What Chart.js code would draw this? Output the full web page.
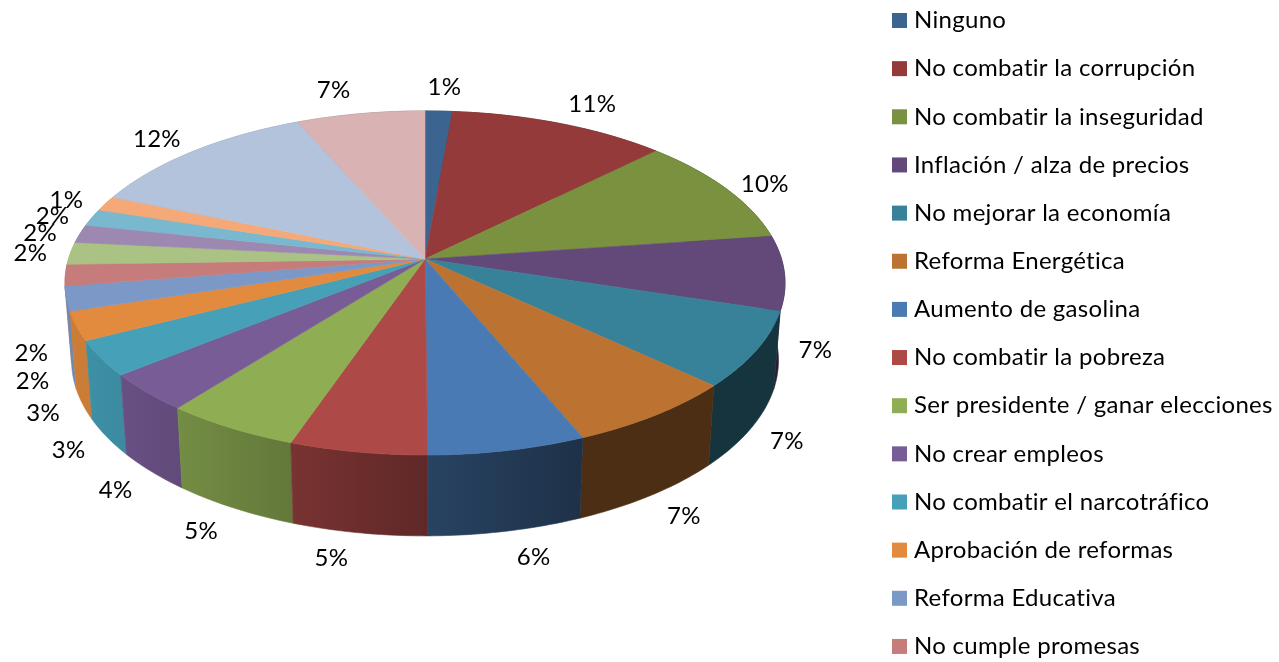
<!DOCTYPE html>
<html>
<head>
<meta charset="utf-8">
<style>
    html, body { margin: 0; background: #fff; overflow: hidden; }
    canvas { display: block; }
</style>
<script src="https://cdn.jsdelivr.net/npm/chart.js@4"></script>
</head>
<body>
<canvas id="pieChart" width="1279" height="662"></canvas>
<script>
// only the first 14 names are readable, the legend is cut off by the picture
const categories = [
    'Ninguno', 'No combatir la corrupción', 'No combatir la inseguridad', 'Inflación / alza de precios',
    'No mejorar la economía', 'Reforma Energética', 'Aumento de gasolina', 'No combatir la pobreza',
    'Ser presidente / ganar elecciones', 'No crear empleos', 'No combatir el narcotráfico',
    'Aprobación de reformas', 'Reforma Educativa', 'No cumple promesas'
];
const shares = [1.4, 11.2, 10.2, 7.0, 7.1, 6.8, 6.2, 5.4, 5.3, 3.6, 3.3, 2.7, 2.3, 2.0, 2.1, 1.7, 1.6, 1.4, 12.1, 6.6];
const colors = [
    '#3b6491', '#943a3a', '#7a923f', '#63497a', '#388299', '#bc7231', '#4a7ab3', '#ad4a48', '#8fae54', '#775c96',
    '#45a0b8', '#e28b3e', '#7b98c6', '#c67c7a', '#aac283', '#9c88b0', '#7ab8cf', '#f5a878', '#b3c3db', '#d9b3b3'
];

const FONT = '24px Lato';
const cx = 425, cy = 259;
const persp = -0.1395;
const topDisc = { rx: 356.5, ry: 168.7, dy: 0 };
const baseDisc = { rx: 350, ry: 172, dy: 77 };

// disc point (cos, sin of the slice angle) to screen, with the perspective of the 3D pie
function project(disc, u, v) {
    const w = 1 + persp * v;
    return {
        x: cx + disc.rx * u / w,
        y: cy + disc.dy + disc.ry * v / w
    };
}

function rimPoints(disc, start, end) {
    const steps = Math.max(2, Math.ceil((end - start) * 60));
    const pts = [];
    for (let i = 0; i <= steps; i++) {
        const a = start + (end - start) * i / steps;
        pts.push(project(disc, Math.cos(a), Math.sin(a)));
    }
    return pts;
}

function fillShape(ctx, pts, fill) {
    ctx.beginPath();
    pts.forEach((p, i) => (i ? ctx.lineTo(p.x, p.y) : ctx.moveTo(p.x, p.y)));
    ctx.closePath();
    ctx.fillStyle = fill;
    ctx.strokeStyle = fill;
    ctx.lineWidth = 0.6;
    ctx.fill();
    ctx.stroke();
}

// side walls get darker from left to right
function shade(hex, x) {
    const s = (x - cx) / 360;
    const f = Math.min(0.9, Math.max(0.4, 0.55 - 0.38 * s));
    const n = parseInt(hex.slice(1), 16);
    return `rgb(${(n >> 16) * f}, ${((n >> 8) & 255) * f}, ${(n & 255) * f})`;
}

// where the percent label sits relative to the rim of its slice
function labelOffset(u, v, rimY) {
    const side = Math.sign(u), size = Math.abs(u);
    if (rimY > cy + 10) {
        return { x: side * (25 + size * (u > 0 ? 6 : 9)), y: 75 + v * 32 };
    }
    return { x: side * Math.min(size * 130, 27 + size * 13), y: -24 * v * v };
}

const pie3d = {
    id: 'pie3d',
    beforeDatasetDraw(chart) {
        const ctx = chart.ctx;
        const arcs = chart.getDatasetMeta(0).data.map((arc, i) => ({
            i, start: arc.startAngle, end: arc.endAngle, mid: (arc.startAngle + arc.endAngle) / 2
        }));

        // walls, back to front
        [...arcs].sort((a, b) => Math.sin(a.mid) - Math.sin(b.mid)).forEach(arc => {
            const upper = rimPoints(topDisc, arc.start, arc.end);
            const lower = rimPoints(baseDisc, arc.start, arc.end);
            const x0 = Math.min(...upper.map(p => p.x));
            const x1 = Math.max(...upper.map(p => p.x));
            const grad = ctx.createLinearGradient(x0, 0, x1 + 1, 0);
            grad.addColorStop(0, shade(colors[arc.i], x0));
            grad.addColorStop(1, shade(colors[arc.i], x1));
            fillShape(ctx, upper.concat(lower.reverse()), grad);
        });

        // top face
        arcs.forEach(arc => {
            fillShape(ctx, [{ x: cx, y: cy }].concat(rimPoints(topDisc, arc.start, arc.end)), colors[arc.i]);
        });

        // percent labels outside the rim
        ctx.font = FONT;
        ctx.letterSpacing = '0.3px';
        ctx.fillStyle = '#000';
        ctx.textAlign = 'center';
        ctx.textBaseline = 'middle';
        arcs.forEach(arc => {
            const u = Math.cos(arc.mid), v = Math.sin(arc.mid);
            const rim = project(topDisc, u, v);
            const off = labelOffset(u, v, rim.y);
            ctx.fillText(Math.round(shares[arc.i]) + '%', rim.x + off.x, rim.y + off.y);
        });
        return false;
    },
    afterDraw(chart) {
        const ctx = chart.ctx;
        ctx.font = FONT;
        ctx.letterSpacing = '0.3px';
        ctx.textAlign = 'left';
        ctx.textBaseline = 'middle';
        categories.forEach((name, i) => {
            const y = 20.5 + i * 48.15;
            ctx.fillStyle = colors[i];
            ctx.fillRect(892, y - 7.5, 15, 15);
            ctx.fillStyle = '#000';
            ctx.fillText(name, 914, y);
        });
    }
};

new Chart(document.getElementById('pieChart').getContext('2d'), {
    type: 'pie',
    data: {
        labels: categories,
        datasets: [{
            data: shares,
            backgroundColor: colors,
            borderWidth: 0
        }]
    },
    options: {
        responsive: false,
        animation: false,
        plugins: {
            legend: { display: false },
            tooltip: { enabled: false }
        }
    },
    plugins: [pie3d]
});
</script>
</body>
</html>
